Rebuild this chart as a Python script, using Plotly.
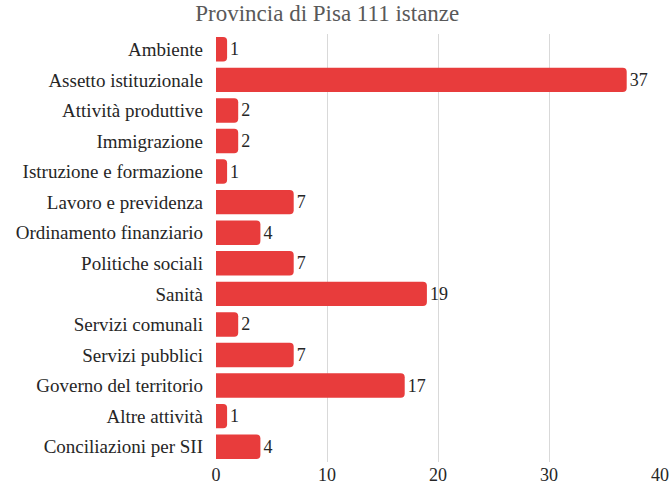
import plotly.graph_objects as go

categories = ["Ambiente", "Assetto istituzionale", "Attività produttive", "Immigrazione",
              "Istruzione e formazione", "Lavoro e previdenza", "Ordinamento finanziario",
              "Politiche sociali", "Sanità", "Servizi comunali", "Servizi pubblici",
              "Governo del territorio", "Altre attività", "Conciliazioni per SII"]
values = [1, 37, 2, 2, 1, 7, 4, 7, 19, 2, 7, 17, 1, 4]
x_ticks = [0, 10, 20, 30, 40]

FONT = "Liberation Serif, Times New Roman, serif"
TXT = "#262626"
fig = go.Figure(go.Bar(
    x=values, y=categories, orientation="h",
    marker=dict(color="#E83C3C", line=dict(width=0)),
    width=0.8,
    text=[str(v) for v in values], textposition="outside",
    textfont=dict(family=FONT, size=18, color=TXT),
    cliponaxis=False,
))
fig.update_layout(
    width=672, height=484,
    margin=dict(l=216, r=12, t=34, b=22, autoexpand=False),
    paper_bgcolor="white", plot_bgcolor="white",
    barcornerradius=4,
    title=dict(text="Provincia di Pisa 111 istanze", x=0.487, xanchor="center",
               y=0.99, yanchor="top",
               font=dict(family=FONT, size=23, color="#595959")),
    font=dict(family=FONT, size=18, color=TXT),
    showlegend=False,
)
fig.update_xaxes(range=[0, 40], tickvals=x_ticks, showgrid=True, gridcolor="#D9D9D9",
                 gridwidth=1, zeroline=False, showline=False, ticks="", automargin=False,
                 tickfont=dict(family=FONT, size=18, color=TXT))
fig.update_yaxes(autorange="reversed", showgrid=False, ticks="", showline=False,
                 automargin=False, ticklabelstandoff=12,
                 tickfont=dict(family=FONT, size=19, color=TXT))
fig.write_html("out.html", config={"displayModeBar": False},
               post_script="document.body.style.margin='0';")
